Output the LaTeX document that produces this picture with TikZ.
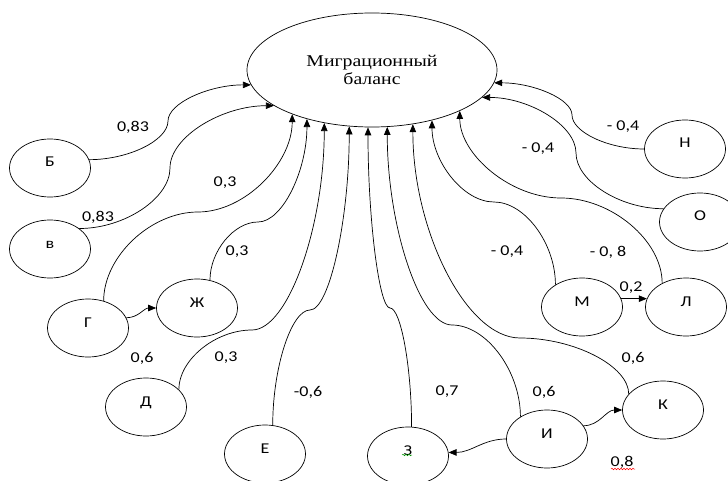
\documentclass[tikz,border=0pt]{standalone}
\usepackage{fontspec}
\setmainfont{Liberation Serif}
\newfontfamily\lblfont[FakeStretch=1.2]{Carlito}
\newfontfamily\balfont[FakeStretch=1.2]{Liberation Serif}
\usetikzlibrary{shapes.geometric, arrows.meta, calc, decorations.pathmorphing}

\begin{document}
\begin{tikzpicture}[x=1pt, y=1pt, line width=0.7pt,
    factor/.style={draw, ellipse, minimum width=81pt, minimum height=58pt, inner sep=0pt,
      font=\lblfont\fontsize{15}{18}\selectfont, text height=10pt, text depth=12pt},
    coef/.style={font=\lblfont\fontsize{15}{18}\selectfont, inner sep=0pt},
    link/.style={-{Triangle[length=8pt,width=6.5pt]}},
    vh/.style={to path={.. controls ($(\tikztostart)!0.5!(\tikztostart|-\tikztotarget)$)
      and ($(\tikztotarget)!0.5!(\tikztostart|-\tikztotarget)$) .. (\tikztotarget)}},
    hv/.style={to path={.. controls ($(\tikztostart)!0.5!(\tikztotarget|-\tikztostart)$)
      and ($(\tikztotarget)!0.5!(\tikztotarget|-\tikztostart)$) .. (\tikztotarget)}},
    spell/.style={line width=0.5pt, decorate, decoration={snake, amplitude=0.8pt, segment length=3pt}}]
  \useasboundingbox (0,0) rectangle (728,480);
  \node[draw, ellipse, minimum width=250pt, minimum height=114pt, align=center,
    font=\balfont\fontsize{16.5}{18}\selectfont] (mb) at (372,410) {Миграционный\\баланс};
  \node[factor] (b) at (50,312) {Б};
  \node[factor] (v) at (50,231) {в};
  \node[factor] (g) at (88,152) {Г};
  \node[factor] (zh) at (197,172) {Ж};
  \node[factor] (d) at (146,73) {Д};
  \node[factor] (e) at (265,26) {Е};
  \node[factor] (z) at (408,24) {З};
  \node[factor] (i) at (547,41) {И};
  \node[factor] (k) at (663,70) {К};
  \node[factor] (m) at (582,173) {М};
  \node[factor] (l) at (686,173) {Л};
  \node[factor] (n) at (685,331) {Н};
  \node[factor] (o) at (700,258) {О};
  \coordinate (b-mid) at (168,359);
  \coordinate (v-mid) at (170,312);
  \coordinate (g-mid) at (198,268);
  \coordinate (zh-mid) at (258,258);
  \coordinate (d-mid) at (252,150);
  \coordinate (e-mid) at (310,170);
  \coordinate (z-mid) at (390,172);
  \coordinate (i-mid) at (452,155);
  \coordinate (k-mid) at (520,142);
  \coordinate (m-mid) at (494,278);
  \coordinate (l-mid) at (561,282);
  \coordinate (o-mid) at (576,327);
  \coordinate (n-mid) at (572,365);
  \draw[link] (b.12) to[hv] (b-mid) to[vh] (mb.187);
  \draw[link] (v.35) to[hv] (v-mid) to[vh] (mb.200);
  \draw[link] (g.60) to[vh] (g-mid) to[hv] (mb.209);
  \draw[link] (zh.65) to[vh] (zh-mid) to[hv] (mb.217);
  \draw[link] (d.28) to[vh] (d-mid) to[hv] (mb.228);
  \draw[link] (e.75) to[vh] (e-mid) to[hv] (mb.248);
  \draw[link] (z.83) to[vh] (z-mid) to[hv] (mb.266);
  \draw[link] (i.140) to[vh] (i-mid) to[hv] (mb.285);
  \draw[link] (k.155) to[vh] (k-mid) to[hv] (mb.307);
  \draw[link] (m.140) to[vh] (m-mid) to[hv] (mb.320);
  \draw[link] (l.135) to[vh] (l-mid) to[hv] (mb.335);
  \draw[link] (o.160) to[hv] (o-mid) to[vh] (mb.346);
  \draw[link] (n.west) to[hv] (n-mid) to[vh] (mb.354);
  \draw[link] (g.15) to[out=0,in=180] (zh.west);
  \draw[link] (m.12) -- (l.168);
  \draw[link] (i.180) to[out=180,in=0] (z.5);
  \draw[link] (i.20) to[out=0,in=180] (k.west);
  \node[coef] (wb) at (133,353) {0,83};
  \node[coef] (wv) at (98,263) {0,83};
  \node[coef] (wg) at (225,297) {0,3};
  \node[coef] (wzh) at (237,228) {0,3};
  \node[coef] (wgzh) at (142,122) {0,6};
  \node[coef] (wd) at (226,122) {0,3};
  \node[coef] (we) at (308,88) {-0,6};
  \node[coef] (wz) at (447,88) {0,7};
  \node[coef] (wi) at (544,88) {0,6};
  \node[coef] (wk) at (633,122) {0,6};
  \node[coef] (wik) at (622,18) {0,8};
  \node[coef] (wml) at (631,192) {0,2};
  \node[coef] (wm) at (507,228) {- 0,4};
  \node[coef] (wl) at (608,228) {- 0, 8};
  \node[coef] (wo) at (538,331) {- 0,4};
  \node[coef] (wn) at (623,353) {- 0,4};
  \draw[spell, green!60!black] (402,25) -- (412,25);
  \draw[spell, red] (611,11) -- (635,11);
\end{tikzpicture}
\end{document}
